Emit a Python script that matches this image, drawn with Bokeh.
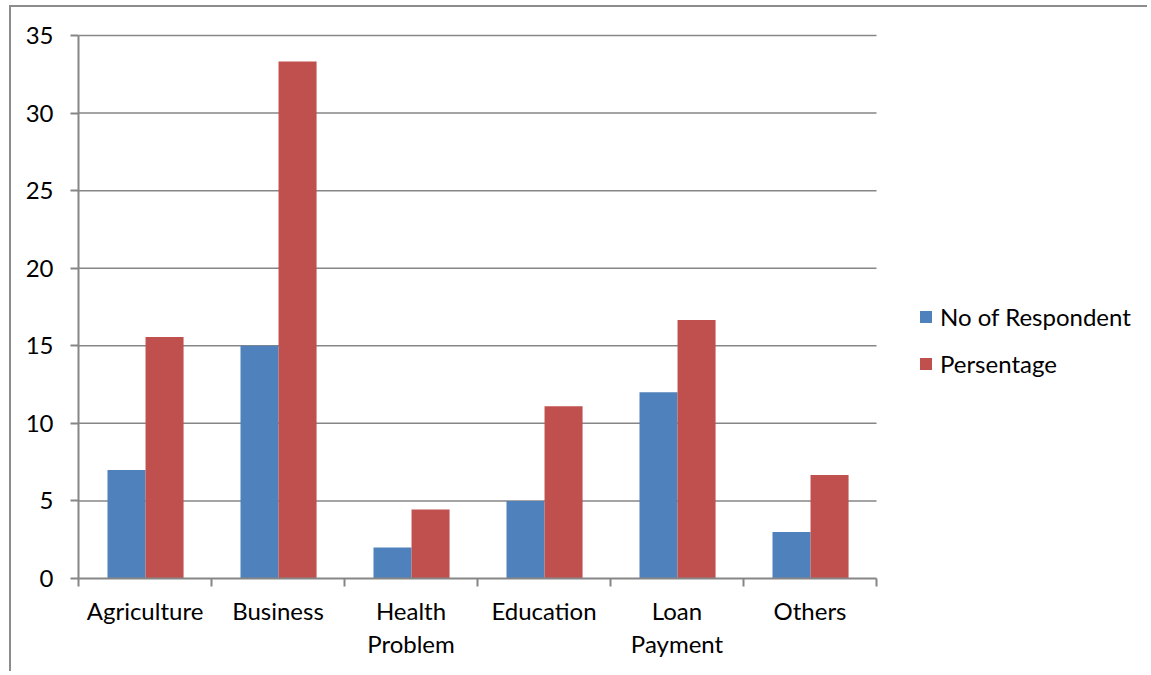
from bokeh.plotting import figure
from bokeh.models import Range1d, FixedTicker, Legend, LegendItem, ColumnDataSource
from bokeh.transform import dodge
from bokeh.embed import file_html
from bokeh.resources import INLINE

categories = ["Agriculture", "Business", "Health\nProblem", "Education", "Loan\nPayment", "Others"]
respondents = [7, 15, 2, 5, 12, 3]
percentage = [15.56, 33.33, 4.44, 11.11, 16.67, 6.67]
y_ticks = [0, 5, 10, 15, 20, 25, 30, 35]

FONT = "Lato"
GRAY = "#868686"

n = len(categories)
xs = [i + 0.5 for i in range(n)]
src = ColumnDataSource(dict(x=xs, r=respondents, p=percentage))

W, H = 1138, 666
LEFT, TOP, BOTTOM = 67, 26, 95
CAT_PX = 133.0  # pixel width of one category slot
x_end = (W - LEFT) / CAT_PX  # frame extends under the legend area

p = figure(width=W, height=H, output_backend="svg", toolbar_location=None,
           x_range=Range1d(0, x_end), y_range=Range1d(0, 35.13),
           min_border_left=LEFT, min_border_top=TOP, min_border_right=0, min_border_bottom=BOTTOM)
p.styles = {"margin-top": "5px", "margin-left": "9px",
            "border-top": "2px solid #8c8c8c", "border-left": "2px solid #8c8c8c"}
p.outline_line_color = None
p.background_fill_color = "white"
p.border_fill_color = "white"

# horizontal gridlines limited to the category area
grid_ys = [t for t in y_ticks if t > 0]
p.segment(x0=[0] * len(grid_ys), x1=[n] * len(grid_ys), y0=grid_ys, y1=grid_ys,
          line_color=GRAY, line_width=1.5)

bw = 0.286
r1 = p.vbar(x=dodge("x", -0.139, range=p.x_range), top="r", width=bw, source=src,
            fill_color="#4F81BD", line_color=None)
r2 = p.vbar(x=dodge("x", 0.147, range=p.x_range), top="p", width=bw, source=src,
            fill_color="#C0504D", line_color=None)

p.xgrid.visible = False
p.ygrid.visible = False

xa = p.xaxis[0]
xa.bounds = (0, n)
xa.ticker = FixedTicker(ticks=xs, minor_ticks=list(range(n + 1)))
xa.major_label_overrides = {x: c for x, c in zip(xs, categories)}
xa.major_tick_out = 0
xa.major_tick_in = 0
xa.minor_tick_out = 8
xa.minor_tick_in = 0
xa.minor_tick_line_color = GRAY
xa.minor_tick_line_width = 2
xa.axis_line_color = GRAY
xa.axis_line_width = 2
xa.major_label_standoff = 9
xa.major_label_text_font = FONT
xa.major_label_text_font_size = "24px"
xa.major_label_text_color = "black"
xa.major_label_text_line_height = 1.15

ya = p.yaxis[0]
ya.bounds = (0, 35)
ya.ticker = FixedTicker(ticks=y_ticks)
ya.major_tick_out = 8
ya.major_tick_in = 0
ya.minor_tick_line_color = None
ya.major_tick_line_color = GRAY
ya.major_tick_line_width = 2
ya.axis_line_color = GRAY
ya.axis_line_width = 2
ya.major_label_standoff = 17
ya.major_label_text_font = FONT
ya.major_label_text_font_size = "24px"
ya.major_label_text_color = "black"

legend = Legend(items=[LegendItem(label="No of Respondent", renderers=[r1]),
                       LegendItem(label="Persentage", renderers=[r2])],
                location=(840, 200), orientation="vertical")
legend.border_line_color = None
legend.background_fill_alpha = 0
legend.label_text_font = FONT
legend.label_text_font_size = "24px"
legend.label_text_color = "black"
legend.glyph_width = 15
legend.glyph_height = 15
legend.label_standoff = 7
legend.spacing = 18
legend.padding = 0
legend.margin = 0
p.add_layout(legend, "center")

open("out.html", "w").write(file_html(p, INLINE))
